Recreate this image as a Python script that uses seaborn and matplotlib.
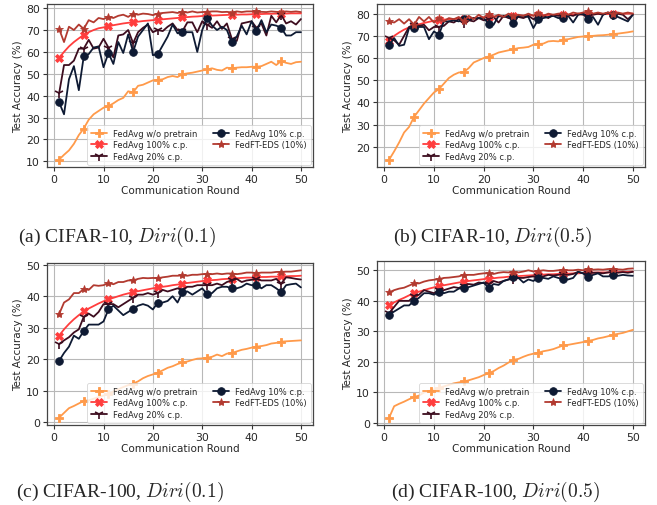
import numpy as np
import pandas as pd
import matplotlib
matplotlib.use("Agg")
import matplotlib.pyplot as plt
from matplotlib.ticker import MultipleLocator
import seaborn as sns

rounds = list(range(1, 51))
methods = ["FedAvg w/o pretrain", "FedAvg 100% c.p.", "FedAvg 20% c.p.", "FedAvg 10% c.p.", "FedFT-EDS (10%)"]
captions = [r"(a) CIFAR-10, $Diri(0.1)$", r"(b) CIFAR-10, $Diri(0.5)$",
            r"(c) CIFAR-100, $Diri(0.1)$", r"(d) CIFAR-100, $Diri(0.5)$"]

# ---- Panel (a) CIFAR-10, Diri(0.1)
a_wo = [10.8, 13.0, 15.0, 18.0, 22.0, 25.0, 29.0, 31.5, 33.0, 34.5, 35.2, 36.5, 38.0, 39.0, 42.0, 41.5, 44.5, 45.0, 46.0, 47.0,
        47.2, 47.5, 48.5, 49.0, 48.5, 49.8, 50.2, 50.5, 51.0, 51.5, 52.0, 52.5, 51.8, 51.5, 52.8, 52.5, 52.8, 53.0, 53.0, 53.2,
        53.2, 53.5, 54.5, 55.5, 54.0, 55.8, 55.0, 54.5, 55.3, 55.5]
a_100 = [57.3, 60.0, 62.5, 64.5, 66.2, 67.8, 69.0, 70.0, 70.8, 71.2, 71.7, 72.2, 72.6, 73.0, 73.3, 73.5, 73.8, 74.1, 74.3, 74.5,
         74.7, 74.9, 75.1, 75.3, 75.5, 75.8, 75.9, 76.1, 76.2, 76.4, 76.5, 76.6, 76.7, 76.8, 76.9, 77.0, 77.0, 77.1, 77.1, 77.2,
         77.3, 77.3, 77.4, 77.4, 77.5, 77.5, 77.5, 77.6, 77.6, 77.6]
a_20 = [41.0, 54.0, 54.0, 56.0, 61.5, 61.5, 65.5, 61.5, 62.0, 66.0, 62.0, 57.5, 67.5, 68.0, 70.0, 64.0, 69.0, 71.0, 72.5, 69.0,
        70.0, 69.5, 71.5, 73.0, 70.0, 69.5, 73.5, 73.5, 69.0, 74.0, 72.5, 71.0, 74.0, 70.5, 73.0, 66.0, 65.0, 73.0, 73.5, 74.0,
        71.0, 73.0, 67.5, 76.5, 73.5, 77.0, 73.0, 74.0, 72.5, 75.0]
a_10 = [37.0, 31.5, 47.5, 53.5, 42.5, 58.0, 59.0, 62.0, 62.5, 53.0, 59.5, 54.5, 64.5, 59.5, 68.0, 60.0, 67.0, 70.0, 73.0, 58.5,
        59.0, 63.0, 67.0, 72.5, 68.5, 69.2, 69.0, 69.0, 60.0, 70.0, 75.3, 72.0, 70.0, 71.5, 70.0, 64.3, 67.0, 72.0, 68.0, 74.0,
        69.5, 74.5, 69.0, 72.5, 72.0, 71.0, 67.5, 67.5, 69.0, 69.0]
a_eds = [70.5, 64.5, 71.5, 70.0, 72.5, 70.5, 74.5, 73.5, 75.5, 75.0, 76.0, 75.5, 76.5, 77.0, 76.0, 77.5, 77.0, 77.5, 77.3, 76.8,
         77.5, 77.8, 78.0, 78.2, 77.8, 78.3, 78.0, 78.5, 78.0, 78.2, 78.3, 78.5, 78.5, 78.2, 78.3, 78.0, 78.5, 78.2, 78.5, 78.5,
         78.5, 78.3, 78.2, 78.5, 78.3, 78.2, 78.5, 78.3, 78.5, 78.2]

# ---- Panel (b) CIFAR-10, Diri(0.5)
b_wo = [14.3, 18.0, 22.0, 26.5, 29.0, 33.5, 36.5, 39.5, 42.0, 44.5, 46.0, 48.5, 51.0, 52.5, 53.5, 53.7, 55.5, 58.0, 59.0, 60.0,
        60.7, 61.5, 62.5, 63.0, 63.5, 64.0, 64.5, 64.7, 65.0, 66.0, 66.3, 66.5, 67.5, 67.7, 67.5, 68.3, 68.5, 69.0, 69.5, 69.7,
        69.8, 70.0, 70.2, 70.3, 70.5, 70.8, 71.0, 71.3, 71.6, 72.0]
b_100 = [67.5, 70.0, 71.5, 72.8, 73.8, 74.5, 75.2, 75.8, 76.3, 76.8, 77.1, 77.3, 77.5, 77.6, 77.7, 77.8, 77.9, 78.0, 78.2, 78.4,
         78.5, 78.6, 78.7, 78.8, 78.9, 79.0, 79.0, 79.1, 79.2, 79.2, 79.3, 79.3, 79.4, 79.4, 79.5, 79.5, 79.5, 79.6, 79.6, 79.7,
         79.7, 79.7, 79.8, 79.8, 79.8, 79.8, 79.9, 79.9, 80.0, 80.0]
b_20 = [69.0, 68.0, 66.0, 70.0, 74.0, 75.0, 74.5, 75.0, 72.5, 74.0, 74.0, 74.5, 76.5, 76.0, 77.5, 76.0, 77.0, 76.5, 78.0, 77.0,
        77.5, 78.5, 76.0, 79.0, 78.0, 78.0, 78.5, 78.0, 79.0, 77.5, 78.5, 79.0, 78.0, 79.5, 79.0, 79.0, 79.5, 79.0, 80.0, 79.5,
        79.0, 79.5, 80.0, 79.5, 80.5, 79.5, 80.0, 79.5, 77.5, 79.5]
b_10 = [65.8, 69.0, 65.5, 66.0, 73.5, 73.5, 74.0, 74.0, 68.5, 72.0, 70.5, 76.5, 76.5, 77.0, 76.5, 77.5, 77.0, 78.0, 78.0, 78.0,
        75.5, 75.0, 79.0, 78.5, 79.0, 75.7, 79.0, 79.0, 78.5, 73.5, 77.5, 78.0, 78.5, 79.0, 78.0, 78.2, 79.0, 76.0, 79.5, 80.0,
        77.5, 78.5, 75.0, 79.5, 80.5, 79.5, 78.5, 77.5, 76.5, 79.5]
b_eds = [76.5, 76.0, 77.5, 75.5, 77.5, 75.0, 78.5, 76.5, 78.5, 76.0, 78.0, 76.5, 78.0, 77.5, 78.5, 76.5, 79.0, 77.5, 79.5, 78.0,
         80.0, 78.5, 79.5, 78.5, 80.0, 79.0, 79.5, 79.0, 80.0, 79.0, 80.5, 79.0, 80.0, 79.5, 80.0, 80.0, 79.5, 80.5, 80.0, 80.5,
         81.0, 80.0, 80.5, 80.0, 80.5, 80.0, 80.5, 80.0, 80.5, 80.0]

# ---- Panel (c) CIFAR-100, Diri(0.1)
c_wo = [1.5, 3.0, 4.5, 5.2, 6.0, 6.8, 7.0, 7.5, 8.0, 8.5, 9.0, 9.8, 10.5, 11.2, 11.8, 12.3, 13.0, 14.0, 14.7, 15.2,
        15.8, 16.5, 17.3, 17.8, 18.5, 19.0, 19.3, 19.8, 20.2, 20.3, 20.5, 20.8, 21.5, 21.0, 21.8, 22.0, 22.5, 23.0, 23.3, 23.7,
        24.0, 24.2, 24.5, 25.0, 25.2, 25.6, 25.7, 25.8, 25.9, 26.0]
c_100 = [27.5, 29.5, 31.2, 32.7, 34.0, 35.2, 36.1, 36.9, 37.7, 38.4, 39.0, 39.5, 40.0, 40.5, 40.9, 41.3, 41.6, 41.9, 42.2, 42.5,
         42.8, 43.0, 43.2, 43.5, 43.7, 44.0, 44.2, 44.4, 44.6, 44.8, 45.0, 45.1, 45.2, 45.4, 45.5, 45.6, 45.7, 45.8, 45.9, 45.9,
         46.0, 46.1, 46.1, 46.2, 46.2, 46.3, 46.3, 46.4, 46.4, 46.5]
c_20 = [24.8, 26.0, 27.0, 28.5, 29.5, 33.5, 34.5, 33.5, 35.0, 37.5, 37.5, 37.5, 36.5, 37.5, 38.5, 39.5, 40.5, 40.5, 41.0, 40.5,
        41.0, 42.0, 41.5, 42.0, 42.5, 42.0, 43.0, 43.0, 43.5, 43.5, 43.5, 43.5, 44.0, 43.5, 44.5, 45.0, 45.5, 44.5, 45.0, 45.2,
        45.5, 45.0, 45.0, 45.0, 45.5, 44.0, 46.0, 45.8, 45.5, 45.3]
c_10 = [19.5, 22.0, 24.0, 27.5, 26.5, 29.0, 31.0, 31.0, 31.0, 32.0, 35.8, 37.0, 35.5, 34.0, 35.0, 36.0, 37.0, 37.5, 37.0, 35.8,
        38.0, 38.0, 38.5, 40.0, 38.0, 41.3, 41.5, 40.5, 41.5, 42.5, 40.7, 41.0, 42.5, 43.0, 43.0, 42.5, 42.5, 43.0, 44.0, 43.5,
        43.7, 42.5, 43.5, 43.5, 42.5, 41.3, 43.5, 43.8, 44.0, 42.8]
c_eds = [34.3, 38.0, 39.0, 41.0, 41.0, 42.3, 42.0, 43.5, 43.3, 43.5, 44.2, 43.8, 44.5, 44.5, 45.0, 45.0, 45.5, 45.8, 45.7, 45.8,
         45.7, 46.0, 46.2, 46.5, 46.5, 46.6, 46.5, 46.8, 46.8, 47.0, 47.0, 47.0, 47.2, 47.0, 47.2, 47.2, 47.0, 47.2, 47.5, 47.5,
         47.3, 47.5, 47.5, 47.5, 47.7, 47.7, 47.8, 47.8, 48.0, 48.2]

# ---- Panel (d) CIFAR-100, Diri(0.5)
d_wo = [1.8, 5.5, 6.3, 7.0, 7.8, 8.5, 9.0, 10.0, 10.5, 11.0, 11.5, 12.0, 12.5, 13.0, 13.3, 13.6, 14.0, 14.5, 15.0, 15.7,
        16.3, 17.0, 18.0, 18.8, 19.8, 20.7, 21.0, 21.7, 22.3, 22.7, 23.0, 23.5, 23.8, 24.2, 24.8, 25.4, 25.6, 25.9, 26.2, 26.5,
        26.9, 27.2, 27.7, 28.0, 28.4, 28.9, 29.2, 29.5, 30.0, 30.5]
d_100 = [38.5, 39.5, 40.3, 41.0, 41.8, 42.5, 43.0, 43.5, 44.0, 44.4, 44.8, 45.1, 45.4, 45.7, 46.0, 46.3, 46.5, 46.7, 46.9, 47.1,
         47.3, 47.4, 47.6, 47.7, 47.9, 48.0, 48.1, 48.2, 48.3, 48.4, 48.5, 48.6, 48.7, 48.7, 48.8, 48.9, 48.9, 49.0, 49.0, 49.1,
         49.2, 49.2, 49.3, 49.3, 49.3, 49.4, 49.4, 49.5, 49.5, 49.6]
d_20 = [36.0, 38.0, 40.0, 40.0, 40.0, 41.5, 42.0, 43.5, 43.0, 42.5, 43.5, 43.5, 44.0, 44.5, 44.2, 45.0, 45.5, 45.3, 46.0, 45.8,
        45.5, 46.5, 46.0, 46.5, 47.0, 47.2, 47.5, 47.5, 47.8, 48.0, 48.0, 48.0, 48.5, 48.3, 48.5, 48.7, 48.5, 48.8, 49.5, 49.0,
        49.0, 49.2, 49.2, 49.0, 49.3, 49.5, 49.2, 49.4, 49.2, 49.5]
d_10 = [35.5, 36.5, 37.5, 38.5, 38.5, 40.0, 41.0, 42.5, 42.5, 42.0, 43.0, 42.5, 43.0, 43.0, 44.0, 44.3, 44.5, 45.0, 45.5, 46.0,
        44.2, 45.5, 45.2, 46.5, 47.0, 47.8, 47.5, 46.0, 47.0, 46.5, 47.6, 47.5, 47.2, 48.0, 47.5, 47.1, 47.0, 47.5, 49.5, 49.0,
        47.8, 48.5, 49.0, 48.0, 48.0, 48.3, 48.2, 48.5, 48.3, 48.2]
d_eds = [42.8, 43.5, 44.0, 44.3, 45.0, 45.7, 45.7, 46.3, 46.7, 46.9, 47.1, 47.5, 47.6, 47.8, 48.0, 48.5, 48.5, 48.5, 48.8, 49.0,
         49.0, 48.8, 49.2, 49.4, 49.3, 49.5, 49.3, 49.6, 50.0, 49.6, 49.8, 50.0, 49.8, 49.8, 50.0, 50.2, 50.0, 50.0, 50.2, 50.0,
         50.5, 50.2, 50.3, 50.2, 50.4, 50.5, 50.3, 50.2, 50.5, 50.6]

panels = [
    [a_wo, a_100, a_20, a_10, a_eds],
    [b_wo, b_100, b_20, b_10, b_eds],
    [c_wo, c_100, c_20, c_10, c_eds],
    [d_wo, d_100, d_20, d_10, d_eds],
]

colors = ["#ff9a4a", "#ff3d3d", "#3d0d1f", "#0e1a33", "#b23a30"]
markers = ["P", "X", "1", "o", "*"]
msizes = [5.5, 5.5, 6.5, 5.5, 6]

sns.set_style("ticks", {"axes.grid": True, "grid.color": "#b8b8b8", "axes.edgecolor": "#333333"})
plt.rcParams["font.family"] = ["DejaVu Sans"]
plt.rcParams["mathtext.fontset"] = "cm"

fig = plt.figure(figsize=(6.57, 5.06), dpi=100)
W, H = 657, 506
boxes = [(47, 5, 313, 168), (377, 5, 645, 168), (47, 264, 313, 426), (377, 262, 645, 426)]
cap_pos = [(117, 237), (493, 237), (120, 492), (495, 492)]

for p, (series, box) in enumerate(zip(panels, boxes)):
    x0, y0, x1, y1 = box
    ax = fig.add_axes([x0 / W, 1 - y1 / H, (x1 - x0) / W, (y1 - y0) / H])
    for k, (name, vals) in enumerate(zip(methods, series)):
        df = pd.DataFrame({"round": rounds, "acc": vals})
        sns.lineplot(data=df, x="round", y="acc", ax=ax, color=colors[k], marker=markers[k],
                     markersize=msizes[k], markevery=5, linewidth=1.3, label=name,
                     markeredgecolor=colors[k], markeredgewidth=1.2 if markers[k] == "1" else 0.6)
    ax.set_xlabel("Communication Round", fontsize=7.5, labelpad=1)
    ax.set_ylabel("Test Accuracy (%)", fontsize=7.5, labelpad=2)
    ax.tick_params(labelsize=7.8, length=3, width=0.8, pad=2, color="#333333")
    ax.set_xticks([0, 10, 20, 30, 40, 50])
    ax.yaxis.set_major_locator(MultipleLocator(10))
    for s in ax.spines.values():
        s.set_linewidth(0.9)
        s.set_color("#444444")
    ax.grid(True, color="#b8b8b8", linewidth=0.8)
    leg = ax.legend(loc="lower right", ncol=2, fontsize=6.0, frameon=True, borderpad=0.45,
                    handlelength=2.0, columnspacing=1.8, labelspacing=0.3, borderaxespad=0.3,
                    handletextpad=0.7)
    leg.get_frame().set_edgecolor("#cccccc")
    leg.get_frame().set_linewidth(0.6)
    cx, cy = cap_pos[p]
    fig.text(cx / W, 1 - cy / H, captions[p], ha="center", va="center", fontsize=14,
             family=["Liberation Serif"])

fig.savefig("out.png", dpi=100)
